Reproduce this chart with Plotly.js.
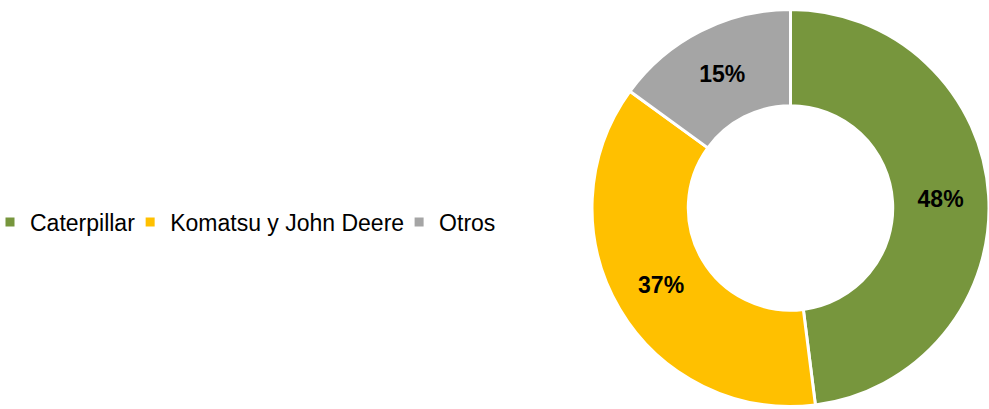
<!DOCTYPE html>
<html>
<head>
<meta charset="utf-8">
<script src="https://cdn.plot.ly/plotly-3.0.1.min.js"></script>
<style>html,body{margin:0;padding:0;background:#fff;}#chart{width:989px;height:409px;}</style>
</head>
<body>
<div id="chart"></div>
<script>
const categories = ["Caterpillar", "Komatsu y John Deere", "Otros"];
const shares = [48, 37, 15];
const sliceColors = ["#77963D", "#FFC000", "#A5A5A5"];

const trace = {
  type: "pie",
  labels: categories,
  values: shares,
  sort: false,
  direction: "clockwise",
  rotation: 0,
  hole: 0.515,
  marker: { colors: sliceColors, line: { color: "#FFFFFF", width: 3 } },
  textinfo: "percent",
  textposition: "inside",
  insidetextorientation: "horizontal",
  textfont: { family: "Liberation Sans, Arial, sans-serif", size: 23, color: "#000000", weight: "bold" },
  domain: { x: [0.5986, 1], y: [0.005, 0.978] },
  hoverinfo: "label+percent"
};

const layout = {
  width: 989,
  height: 409,
  margin: { l: 0, r: 0, t: 0, b: 0, autoexpand: false },
  paper_bgcolor: "#FFFFFF",
  plot_bgcolor: "#FFFFFF",
  showlegend: true,
  legend: {
    orientation: "h",
    x: 0,
    xanchor: "left",
    y: 0.457,
    yanchor: "middle",
    itemwidth: 30,
    indentation: -10,
    font: { family: "Liberation Sans, Arial, sans-serif", size: 23, color: "#000000" },
    bgcolor: "rgba(0,0,0,0)"
  }
};

Plotly.newPlot("chart", [trace], layout, { displayModeBar: false, staticPlot: true });
</script>
</body>
</html>
